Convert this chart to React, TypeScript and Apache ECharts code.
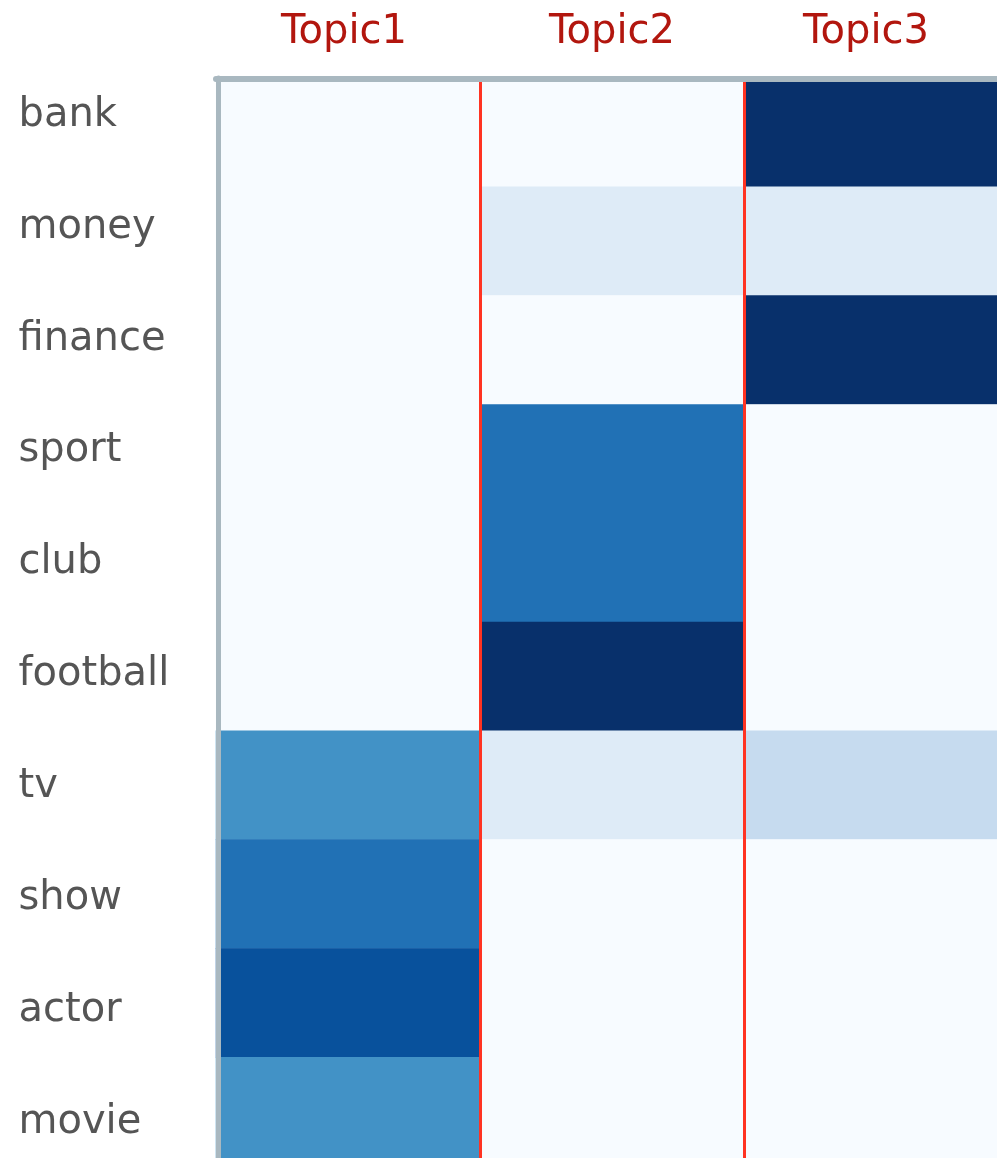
import React, { useEffect, useRef } from "react";
import * as echarts from "echarts";

const topics = ["Topic1", "Topic2", "Topic3"];
const words = ["bank", "money", "finance", "sport", "club", "football", "tv", "show", "actor", "movie"];
const topic1Values = [0, 0, 0, 0, 0, 0, 0.625, 0.75, 0.875, 0.625];
const topic2Values = [0, 0.125, 0, 0.75, 0.75, 1, 0.125, 0, 0, 0];
const topic3Values = [1, 0.125, 1, 0, 0, 0, 0.25, 0, 0, 0];
const dividers = [1, 2];
const blues = ["#f7fbff", "#deebf7", "#c6dbef", "#9ecae1", "#6baed6", "#4292c6", "#2171b5", "#08519c", "#08306b"];

export default function App() {
  const ref = useRef<HTMLDivElement>(null);
  useEffect(() => {
    if (!ref.current) return;
    const chart = echarts.init(ref.current, undefined, { renderer: "svg" });
    const cols = [topic1Values, topic2Values, topic3Values];
    const data: [number, number, number][] = [];
    cols.forEach((vals, x) => vals.forEach((v, y) => data.push([x, y, v])));
    const font = "DejaVu Sans";
    const topStyle = { color: "#b2160e", fontSize: 40, fontFamily: font };
    const wordStyle = { color: "#555555", fontSize: 40, fontFamily: font };
    // label rows in the reference are spaced slightly wider than the cells
    const wordRich: Record<string, any> = {};
    words.forEach((_, i) => {
      const diff = 41.4 - 6.2 * i;
      wordRich["w" + i] = {
        ...wordStyle,
        padding: [Math.max(0, -diff), 0, Math.max(0, diff), 0],
      };
    });
    chart.setOption({
      animation: false,
      grid: {
        left: 216,
        top: 78,
        width: 792,
        height: 1088,
        containLabel: false,
        outerBoundsMode: "none",
      },
      xAxis: [
        {
          type: "category",
          data: topics,
          position: "top",
          offset: -1,
          z: 10,
          axisTick: { show: false },
          splitLine: { show: false },
          axisLine: { show: true, onZero: false, lineStyle: { color: "#a9b8c0", width: 6 } },
          axisLabel: {
            ...topStyle,
            interval: 0,
            hideOverlap: false,
            margin: 30,
            formatter: (v: string, i: number) => `{t${i}|${v}}`,
            rich: {
              t0: { ...topStyle, padding: [0, 8, 0, 0] },
              t1: { ...topStyle, padding: [0, 0, 0, 0] },
              t2: { ...topStyle, padding: [0, 20, 0, 0] },
            },
          },
        },
        { type: "value", min: 0, max: 3, show: false },
      ],
      yAxis: [
        {
          type: "category",
          data: words,
          inverse: true,
          offset: -2.5,
          z: 10,
          axisTick: { show: false },
          splitLine: { show: false },
          axisLine: { show: true, onZero: false, lineStyle: { color: "#a9b8c0", width: 5 } },
          axisLabel: {
            ...wordStyle,
            interval: 0,
            hideOverlap: false,
            align: "left",
            margin: 200,
            formatter: (v: string, i: number) => `{w${i}|${v}}`,
            rich: wordRich,
          },
        },
        { type: "value", min: 0, max: 1, show: false },
      ],
      visualMap: {
        show: false,
        type: "continuous",
        min: 0,
        max: 1,
        seriesIndex: 0,
        inRange: { color: blues },
      },
      series: [
        {
          type: "heatmap",
          data,
          xAxisIndex: 0,
          yAxisIndex: 0,
          z: 2,
        },
        {
          type: "line",
          xAxisIndex: 1,
          yAxisIndex: 1,
          data: [[0, 0]],
          showSymbol: false,
          lineStyle: { opacity: 0 },
          silent: true,
          z: 5,
          markLine: {
            silent: true,
            symbol: ["none", "none"],
            label: { show: false },
            lineStyle: { color: "#ff3322", width: 3, type: "solid", opacity: 1 },
            data: dividers.map((d) => ({ xAxis: d })),
          },
        },
      ],
    });
    return () => chart.dispose();
  }, []);
  return <div ref={ref} style={{ position: "fixed", left: 0, top: 0, width: 997, height: 1158 }} />;
}
